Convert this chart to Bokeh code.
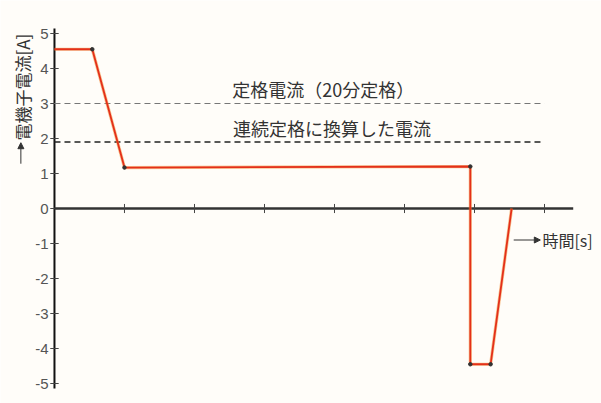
from bokeh.plotting import figure
from bokeh.models import Range1d, Label, Arrow, NormalHead
from bokeh.embed import file_html
from bokeh.resources import INLINE
from bokeh.core.properties import value

# Data (time [s], armature current [A])
time_s = [0, 0.54, 1.0, 5.94, 5.94, 6.23, 6.53]
current_a = [4.55, 4.55, 1.17, 1.2, -4.45, -4.45, 0]
vertex_t = [0.54, 1.0, 5.94, 5.94, 6.23]
vertex_i = [4.55, 1.17, 1.2, -4.45, -4.45]

rated_current = 3.0          # 定格電流（20分定格）
continuous_current = 1.9     # 連続定格に換算した電流
ref_end = 7.0

y_ticks = [-5, -4, -3, -2, -1, 0, 1, 2, 3, 4, 5]
y_tick_labels = ["-5", "-4", "-3", "-2", "-1", "0", "1", "2", "3", "4", "5"]
x_ticks = [1, 2, 3, 4, 5, 6, 7]
x_axis_end = 7.41
y_axis_lo, y_axis_hi = -5.14, 5.14

BG = "#fffdf9"
RED = "#e4301a"
CJK = "Noto Sans CJK JP"

p = figure(width=601, height=403, output_backend="svg", toolbar_location=None,
           x_range=Range1d(-0.771, 7.814), y_range=Range1d(-5.571, 5.943),
           x_axis_type=None, y_axis_type=None,
           min_border_left=0, min_border_right=0, min_border_top=0, min_border_bottom=0)
p.background_fill_color = BG
p.border_fill_color = BG
p.outline_line_color = None
p.xgrid.visible = False
p.ygrid.visible = False

# y axis at t = 0
p.segment(x0=[0], y0=[y_axis_lo], x1=[0], y1=[y_axis_hi], line_color="#111111", line_width=2)
p.segment(x0=[-0.06] * len(y_ticks), y0=y_ticks, x1=[0.06] * len(y_ticks), y1=y_ticks,
          line_color="#444444", line_width=1)
p.text(x=[-0.085] * len(y_ticks), y=y_ticks, text=y_tick_labels,
       text_font=value("Liberation Sans"), text_font_size="15px", text_color="#555555",
       text_align="right", text_baseline="middle")

# x axis at i = 0
p.segment(x0=[0], y0=[0], x1=[x_axis_end], y1=[0], line_color="#333333", line_width=2.5)
p.segment(x0=x_ticks, y0=[-0.13] * len(x_ticks), x1=x_ticks, y1=[0.13] * len(x_ticks),
          line_color="#444444", line_width=1)

# reference dashed lines
p.segment(x0=[0], y0=[rated_current], x1=[ref_end], y1=[rated_current],
          line_color="#777777", line_width=1, line_dash="6 4")
p.segment(x0=[0], y0=[continuous_current], x1=[ref_end], y1=[continuous_current],
          line_color="#222222", line_width=1.3, line_dash="6 4")

p.text(x=[2.54], y=[rated_current + 0.03], text=["定格電流（20分定格）"],
       text_font=value(CJK), text_font_size="18px", text_color="#333333",
       text_baseline="bottom", text_align="left")
p.text(x=[2.55], y=[continuous_current + 0.03], text=["連続定格に換算した電流"],
       text_font=value(CJK), text_font_size="18px", text_color="#333333",
       text_baseline="bottom", text_align="left")

# current curve
p.line(time_s, current_a, line_color="#f08a2a", line_width=3.2, line_alpha=0.5)
p.line(time_s, current_a, line_color=RED, line_width=1.8)
p.scatter(vertex_t, vertex_i, size=3.5, color="#333333")

# axis titles
p.add_layout(Label(x=-0.45, y=1.94, text="電機子電流[A]", angle=1.5708,
                   text_font=CJK, text_font_size="17px", text_color="#333333",
                   text_align="left", text_baseline="middle"))
p.add_layout(Arrow(x_start=-0.48, y_start=1.28, x_end=-0.48, y_end=1.88, line_width=1,
                   line_color="#333333",
                   end=NormalHead(size=6, fill_color="#333333", line_color="#333333")))
p.add_layout(Arrow(x_start=6.56, y_start=-0.9, x_end=6.94, y_end=-0.9, line_width=1,
                   line_color="#333333",
                   end=NormalHead(size=6, fill_color="#333333", line_color="#333333")))
p.add_layout(Label(x=6.97, y=-0.9, text="時間[s]",
                   text_font=CJK, text_font_size="16px", text_color="#333333",
                   text_align="left", text_baseline="middle"))

open("out.html", "w").write(file_html(p, INLINE))
